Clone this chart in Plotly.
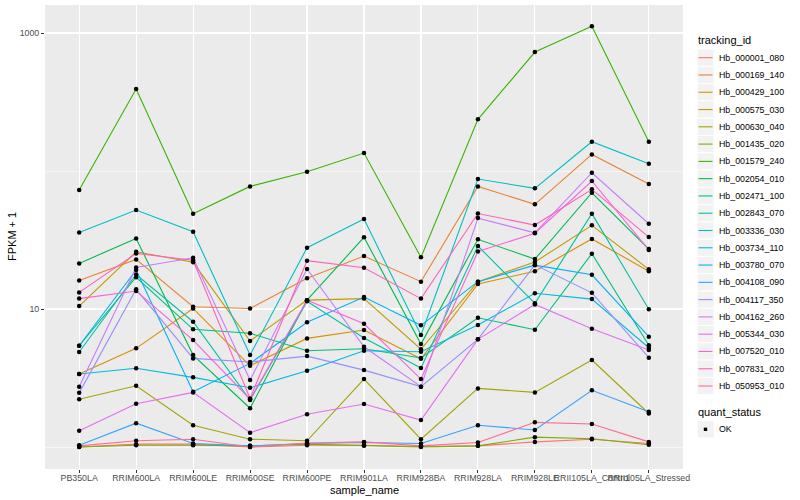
import plotly.graph_objects as go

samples = ["PB350LA", "RRIM600LA", "RRIM600LE", "RRIM600SE", "RRIM600PE", "RRIM901LA",
           "RRIM928BA", "RRIM928LA", "RRIM928LE", "RRII105LA_Control", "RRII105LA_Stressed"]

tracking_ids = ["Hb_000001_080", "Hb_000169_140", "Hb_000429_100", "Hb_000575_030", "Hb_000630_040",
                "Hb_001435_020", "Hb_001579_240", "Hb_002054_010", "Hb_002471_100", "Hb_002843_070",
                "Hb_003336_030", "Hb_003734_110", "Hb_003780_070", "Hb_004108_090", "Hb_004117_350",
                "Hb_004162_260", "Hb_005344_030", "Hb_007520_010", "Hb_007831_020", "Hb_050953_010"]

colors = ["#F8766D", "#EA8331", "#D89000", "#C09B00", "#A3A500", "#7CAE00", "#39B600", "#00BB4E",
          "#00BF7D", "#00C1A3", "#00BFC4", "#00BAE0", "#00B0F6", "#35A2FF", "#9590FF", "#C77CFF",
          "#E76BF3", "#FA62DB", "#FF62BC", "#FF6C91"]

# FPKM + 1 values per sample (order of `samples`)
hb_000001_080 = [1.00, 1.05, 1.05, 1.00, 1.03, 1.03, 1.01, 1.02, 1.09, 1.14, 1.06]
hb_000169_140 = [16.1, 22.9, 10.4, 10.1, 16.7, 24.2, 15.8, 77.4, 57.4, 132, 80.5]
hb_000429_100 = [3.38, 5.19, 10.1, 3.88, 6.13, 7.05, 4.36, 15.2, 18.8, 32.2, 18.8]
hb_000575_030 = [10.5, 26.0, 21.8, 5.87, 11.6, 11.9, 5.11, 15.8, 21.9, 40.4, 19.4]
hb_000630_040 = [2.22, 2.78, 1.44, 1.14, 1.11, 3.11, 1.14, 2.66, 2.49, 4.27, 1.75]
hb_001435_020 = [1.00, 1.03, 1.03, 1.02, 1.05, 1.02, 1.00, 1.02, 1.18, 1.15, 1.04]
hb_001579_240 = [72.8, 393, 49.1, 77.4, 98.9, 135, 23.7, 237, 728, 1119, 163]
hb_002054_010 = [21.4, 32.5, 4.64, 1.91, 11.6, 33.1, 5.57, 32.0, 23.0, 69.6, 27.2]
hb_002471_100 = [5.42, 17.0, 7.13, 6.67, 4.99, 5.16, 4.42, 8.65, 7.08, 25.2, 5.46]
hb_002843_070 = [4.88, 17.8, 8.09, 2.19, 11.4, 6.16, 3.74, 28.6, 11.0, 49.1, 9.95]
hb_003336_030 = [35.8, 52.1, 36.3, 4.64, 27.8, 44.9, 6.48, 87.5, 74.9, 163, 113]
hb_003734_110 = [3.38, 3.72, 3.20, 2.69, 3.57, 4.99, 4.91, 7.66, 13.0, 11.8, 5.24]
hb_003780_070 = [5.42, 19.2, 2.52, 4.04, 8.01, 12.2, 7.62, 15.8, 20.8, 17.7, 6.30]
hb_004108_090 = [1.03, 1.49, 1.06, 1.02, 1.06, 1.08, 1.06, 1.44, 1.33, 2.58, 1.80]
hb_004117_350 = [2.47, 13.9, 4.39, 4.13, 4.56, 3.61, 2.74, 6.03, 20.9, 13.1, 4.44]
hb_004162_260 = [2.74, 20.0, 23.5, 3.06, 19.5, 5.33, 2.74, 45.6, 35.7, 97.2, 41.5]
hb_005344_030 = [1.31, 2.06, 2.49, 1.27, 1.73, 2.05, 1.57, 6.03, 10.8, 7.20, 5.05]
hb_007520_010 = [11.9, 13.5, 5.96, 2.22, 11.6, 7.82, 3.11, 26.1, 35.4, 84.7, 26.8]
hb_007831_020 = [13.2, 25.3, 22.6, 2.25, 22.4, 19.9, 11.9, 49.2, 40.6, 73.7, 33.2]
hb_050953_010 = [1.02, 1.11, 1.14, 1.00, 1.07, 1.09, 1.02, 1.08, 1.51, 1.47, 1.09]

series_values = [hb_000001_080, hb_000169_140, hb_000429_100, hb_000575_030, hb_000630_040,
                 hb_001435_020, hb_001579_240, hb_002054_010, hb_002471_100, hb_002843_070,
                 hb_003336_030, hb_003734_110, hb_003780_070, hb_004108_090, hb_004117_350,
                 hb_004162_260, hb_005344_030, hb_007520_010, hb_007831_020, hb_050953_010]

quant_status = ["OK"]

y_tick_vals = [10, 1000]
y_tick_text = ["10", "1000"]
y_minor_vals = [1, 100]

FONT = "Liberation Sans, Arial, sans-serif"
W, H = 800, 500
ML, MR, MT, MB = 45, 117, 5, 31
PW, PH = W - ML - MR, H - MT - MB


def px_x(px):
    return (px - ML) / PW


def px_y(py):
    return (H - MB - py) / PH


fig = go.Figure()
for name, col, vals in zip(tracking_ids, colors, series_values):
    fig.add_trace(go.Scatter(
        x=samples, y=vals, mode="lines", name=name, showlegend=False,
        line=dict(color=col, width=1.1), hoverinfo="skip"))

pts_x, pts_y = [], []
for vals in series_values:
    pts_x.extend(samples)
    pts_y.extend(vals)
fig.add_trace(go.Scatter(
    x=pts_x, y=pts_y, mode="markers", name=quant_status[0], showlegend=False,
    marker=dict(color="black", size=4.5, symbol="circle"), hoverinfo="skip"))

shapes = []
annotations = []

# custom ggplot-like legend: tracking_id
key_l, key_r = 697, 714
step = 17.28
first_c = 57.7
annotations.append(dict(x=px_x(696), y=px_y(40.5), xref="paper", yref="paper",
                        text="tracking_id", showarrow=False, xanchor="left", yanchor="middle",
                        font=dict(size=11, color="black", family=FONT)))
for i, (name, col) in enumerate(zip(tracking_ids, colors)):
    yc = first_c + i * step
    shapes.append(dict(type="rect", xref="paper", yref="paper",
                       x0=px_x(key_l), x1=px_x(key_r), y0=px_y(yc - step / 2), y1=px_y(yc + step / 2),
                       fillcolor="#F2F2F2", line=dict(color="white", width=1), layer="above"))
    shapes.append(dict(type="line", xref="paper", yref="paper",
                       x0=px_x(key_l + 1.5), x1=px_x(key_r - 1.5), y0=px_y(yc), y1=px_y(yc),
                       line=dict(color=col, width=1.1), layer="above"))
    annotations.append(dict(x=px_x(716.5), y=px_y(yc), xref="paper", yref="paper",
                            text=name, showarrow=False, xanchor="left", yanchor="middle",
                            font=dict(size=8.8, color="black", family=FONT)))

# quant_status legend
annotations.append(dict(x=px_x(696), y=px_y(412), xref="paper", yref="paper",
                        text="quant_status", showarrow=False, xanchor="left", yanchor="middle",
                        font=dict(size=11, color="black", family=FONT)))
qc = 429.3
shapes.append(dict(type="rect", xref="paper", yref="paper",
                   x0=px_x(key_l), x1=px_x(key_r), y0=px_y(qc - step / 2), y1=px_y(qc + step / 2),
                   fillcolor="#F2F2F2", line=dict(color="white", width=1), layer="above"))
shapes.append(dict(type="rect", xref="paper", yref="paper",
                   x0=px_x(703.8), x1=px_x(707.2), y0=px_y(qc - 1.7), y1=px_y(qc + 1.7),
                   fillcolor="black", line=dict(color="black", width=0), layer="above"))
annotations.append(dict(x=px_x(716.5), y=px_y(qc), xref="paper", yref="paper",
                        text=quant_status[0], showarrow=False, xanchor="left", yanchor="middle",
                        font=dict(size=8.8, color="black", family=FONT)))

# axis titles
annotations.append(dict(x=px_x(364), y=px_y(489.5), xref="paper", yref="paper",
                        text="sample_name", showarrow=False, xanchor="center", yanchor="middle",
                        font=dict(size=11, color="black", family=FONT)))
annotations.append(dict(x=px_x(12), y=px_y(237), xref="paper", yref="paper",
                        text="FPKM + 1", showarrow=False, xanchor="center", yanchor="middle",
                        textangle=-90, font=dict(size=11, color="black", family=FONT)))

fig.update_layout(
    width=W, height=H,
    margin=dict(l=ML, r=MR, t=MT, b=MB, autoexpand=False),
    paper_bgcolor="white", plot_bgcolor="#EBEBEB",
    font=dict(family=FONT, size=9, color="#4D4D4D"),
    showlegend=False, hovermode=False,
    shapes=shapes, annotations=annotations,
)

fig.update_xaxes(
    type="category", categoryorder="array", categoryarray=samples,
    range=[-0.6, len(samples) - 0.4],
    showgrid=True, gridcolor="white", gridwidth=1.1,
    ticks="outside", ticklen=3, tickcolor="#333333", tickwidth=1,
    ticklabelstandoff=-3,
    tickangle=0, tickfont=dict(size=8.8, color="#4D4D4D"),
    automargin=False, zeroline=False, showline=False)

fig.update_yaxes(
    type="log", range=[-0.159, 3.203],
    tickmode="array", tickvals=y_tick_vals, ticktext=y_tick_text,
    showgrid=True, gridcolor="white", gridwidth=1.1,
    minor=dict(tickmode="array", tickvals=y_minor_vals, showgrid=True,
               gridcolor="white", gridwidth=0.55, ticks=""),
    ticks="outside", ticklen=3, tickcolor="#333333", tickwidth=1,
    tickfont=dict(size=8.8, color="#4D4D4D"),
    automargin=False, zeroline=False, showline=False)

fig.write_html("out.html", config={"displayModeBar": False, "staticPlot": True},
               post_script="document.body.style.margin='0px';")
